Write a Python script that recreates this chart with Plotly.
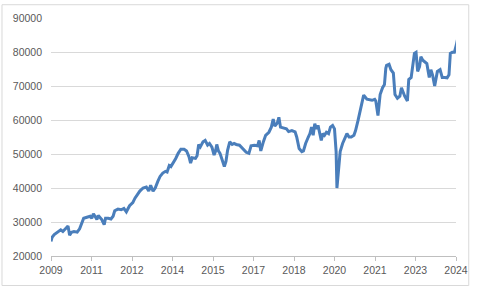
import plotly.graph_objects as go

# Decimal-year positions and values
years = [2009.0, 2009.04, 2009.12, 2009.24, 2009.36, 2009.44, 2009.54, 2009.63, 2009.69, 2009.76,
         2009.85, 2009.97, 2010.06, 2010.15, 2010.21, 2010.33, 2010.45, 2010.51, 2010.57, 2010.63,
         2010.70, 2010.75, 2010.82, 2010.88, 2010.97, 2011.02, 2011.12, 2011.22, 2011.30, 2011.36,
         2011.48, 2011.60, 2011.70, 2011.79, 2011.91, 2012.03, 2012.11, 2012.29, 2012.41, 2012.53,
         2012.62, 2012.69, 2012.78, 2012.86, 2012.96, 2013.04, 2013.14, 2013.24, 2013.30, 2013.38,
         2013.44, 2013.50, 2013.62, 2013.71, 2013.81, 2013.93, 2014.02, 2014.11, 2014.17, 2014.23,
         2014.35, 2014.41, 2014.47, 2014.53, 2014.63, 2014.71, 2014.80, 2014.87, 2014.96, 2015.04,
         2015.09, 2015.14, 2015.20, 2015.26, 2015.32, 2015.42, 2015.48, 2015.54, 2015.62, 2015.71,
         2015.78, 2015.86, 2015.98, 2016.11, 2016.23, 2016.33, 2016.41, 2016.53, 2016.65, 2016.71,
         2016.77, 2016.87, 2016.95, 2017.07, 2017.16, 2017.23, 2017.29, 2017.38, 2017.44, 2017.50,
         2017.60, 2017.72, 2017.80, 2017.92, 2018.04, 2018.10, 2018.19, 2018.29, 2018.35, 2018.43,
         2018.53, 2018.59, 2018.65, 2018.71, 2018.77, 2018.83, 2018.89, 2018.95, 2019.01, 2019.07,
         2019.13, 2019.20, 2019.28, 2019.35, 2019.43, 2019.50, 2019.56, 2019.59, 2019.64, 2019.71,
         2019.80, 2019.89, 2019.96, 2020.04, 2020.12, 2020.22, 2020.28, 2020.37, 2020.47, 2020.52,
         2020.58, 2020.70, 2020.89, 2020.99, 2021.03, 2021.11, 2021.19, 2021.28, 2021.35, 2021.40,
         2021.43, 2021.52, 2021.59, 2021.68, 2021.74, 2021.83, 2021.92, 2021.98, 2022.04, 2022.10,
         2022.20, 2022.25, 2022.34, 2022.40, 2022.46, 2022.52, 2022.58, 2022.65, 2022.70, 2022.77,
         2022.85, 2022.92, 2022.97, 2023.01, 2023.07, 2023.13, 2023.21, 2023.31, 2023.41, 2023.49,
         2023.58, 2023.67, 2023.74, 2023.79, 2023.86, 2023.94, 2024.01, 2024.06]

values = [24300, 25500, 26300, 26900, 27700, 27200, 28200, 28800, 26100, 27000,
          27200, 27000, 28000, 29900, 31100, 31400, 31700, 31100, 32400, 31700,
          30700, 31900, 31400, 30700, 29200, 31100, 31100, 30900, 31700, 33300,
          33800, 33600, 34000, 33000, 34800, 35700, 37000, 39100, 40000, 40300,
          39100, 40800, 39100, 40000, 42000, 43400, 44400, 44900, 44700, 46600,
          46300, 47000, 48700, 50200, 51400, 51400, 50900, 49200, 47300, 48900,
          48700, 49500, 52800, 52100, 53600, 54000, 52600, 53100, 52000, 49700,
          50700, 52800, 50900, 50200, 48900, 46300, 47800, 51100, 53600, 52800,
          53100, 52800, 52600, 51600, 50500, 50200, 52400, 52600, 52400, 54000,
          50900, 53700, 55500, 56400, 57900, 60300, 58200, 59100, 60800, 57900,
          57600, 57400, 56600, 56900, 56500, 55000, 51600, 50700, 50900, 53100,
          55000, 56000, 57900, 55500, 58900, 57400, 58400, 56000, 54000, 56000,
          55500, 56400, 56000, 57900, 58400, 57400, 50700, 40000, 45800, 50700,
          53100, 55000, 56000, 55000, 55000, 55500, 56900, 59800, 63200, 65100,
          67300, 66100, 65800, 66100, 65600, 61300, 67500, 69500, 70400, 75200,
          76100, 76400, 74800, 73800, 67500, 66400, 67000, 69500, 68000, 67000,
          65600, 71900, 72500, 75500, 79600, 79900, 74300, 75700, 78600, 77600,
          77100, 76600, 74300, 72500, 74800, 73300, 70000, 74300, 74800, 72500,
          72500, 72400, 73300, 79600, 79900, 79900, 82000, 83900]

x_tickvals = [2009, 2010.5, 2012, 2013.5, 2015, 2016.5, 2018, 2019.5, 2021, 2022.5, 2024]
x_ticktext = ["2009", "2011", "2012", "2014", "2015", "2017", "2018", "2020", "2021", "2023", "2024"]
y_tickvals = [20000, 30000, 40000, 50000, 60000, 70000, 80000, 90000]
y_ticktext = ["20000", "30000", "40000", "50000", "60000", "70000", "80000", "90000"]

fig = go.Figure()
fig.add_trace(go.Scatter(
    x=years, y=values, mode="lines",
    line=dict(color="#4A7EBB", width=3),
    cliponaxis=False, showlegend=False, hoverinfo="skip",
))

font = dict(family="Liberation Sans, Arial, sans-serif", size=10.5, color="#595959")

fig.update_layout(
    width=480, height=288,
    margin=dict(l=51, r=16, t=14, b=32, pad=0),
    paper_bgcolor="white", plot_bgcolor="white",
    font=font,
    xaxis=dict(
        range=[2009, 2024], tickvals=x_tickvals, ticktext=x_ticktext,
        showgrid=False, zeroline=False,
        showline=True, linecolor="#BFBFBF", linewidth=1,
        ticks="outside", ticklen=4, tickcolor="#BFBFBF", tickwidth=1,
        tickfont=font, fixedrange=True,
    ),
    yaxis=dict(
        range=[20000, 90000], tickvals=y_tickvals, ticktext=y_ticktext,
        showgrid=True, gridcolor="#D9D9D9", gridwidth=1,
        zeroline=False, showline=False, ticks="",
        ticklabelstandoff=8, tickfont=font, fixedrange=True,
    ),
    shapes=[dict(
        type="rect", xref="paper", yref="paper",
        x0=-0.121, x1=1.0315, y0=-0.124, y1=1.0558,
        line=dict(color="#D9D9D9", width=1), fillcolor="rgba(0,0,0,0)", layer="below",
    )],
)

fig.write_html("out.html")
